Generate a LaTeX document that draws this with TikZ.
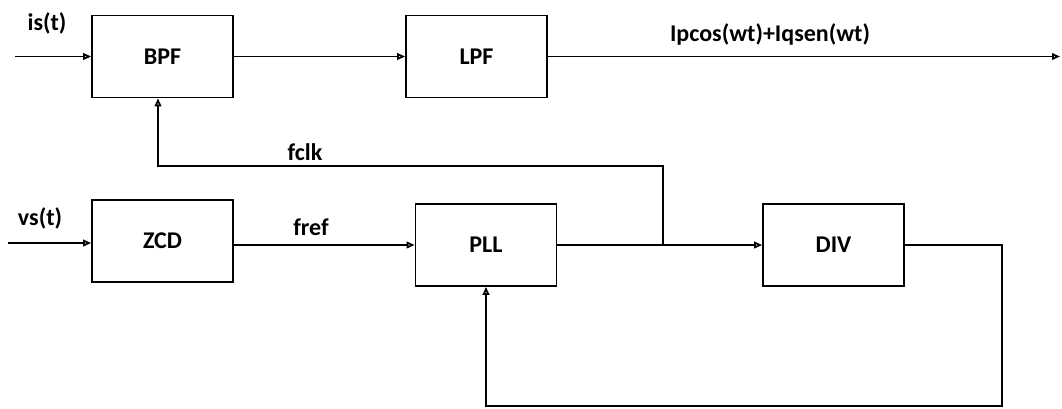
\documentclass[tikz,border=0pt]{standalone}
\usepackage{fontspec}
\setmainfont{Carlito}
\usetikzlibrary{arrows.meta}

\begin{document}
\begin{tikzpicture}[x=0.75pt, y=-0.75pt, >={Triangle[open,length=6pt,width=5pt]}, line width=1.3pt,
  blk/.style={draw, minimum width=105.75pt, minimum height=61.5pt, inner sep=0pt, font=\fontsize{18}{20}\selectfont\bfseries},
  lbl/.style={font=\fontsize{18}{20}\selectfont\bfseries, inner sep=1pt}]
  \useasboundingbox (0,0) rectangle (1062,408);
  % blocks
  \node[blk] (bpf) at (162.5,56.5) {BPF};
  \node[blk] (lpf) at (476.5,56.5) {LPF};
  \node[blk] (zcd) at (162.5,241) {ZCD};
  \node[blk] (pll) at (486,245) {PLL};
  \node[blk] (div) at (833.5,245) {DIV};
  % free ends
  \coordinate (isin) at (15,56.5);
  \coordinate (vsin) at (8,243);
  \coordinate (out) at (1060,56.5);
  \coordinate (tap) at (663,245);
  \coordinate (fk) at (158,166);
  \coordinate (fb) at (1002,406);
  % connectors
  \draw[->] (isin) -- (bpf);
  \draw[->] (bpf) -- (lpf);
  \draw[->] (lpf) -- (out);
  \draw[->] (vsin) -- (vsin -| zcd.west);
  \draw[->] (zcd.east |- pll) -- (pll);
  \draw[->] (pll) -- (div);
  \draw[->] (tap) |- (fk) -- (fk |- bpf.south);
  \draw[->] (div) -| (fb) -| (pll.south);
  % labels
  \node[lbl] (is) at (47,23) {is(t)};
  \node[lbl] (vs) at (40,218) {vs(t)};
  \node[lbl] (fref) at (311,227) {fref};
  \node[lbl] (fclk) at (305,152) {fclk};
  \node[lbl] (iq) at (770,34) {Ipcos(wt)+Iqsen(wt)};
\end{tikzpicture}
\end{document}
